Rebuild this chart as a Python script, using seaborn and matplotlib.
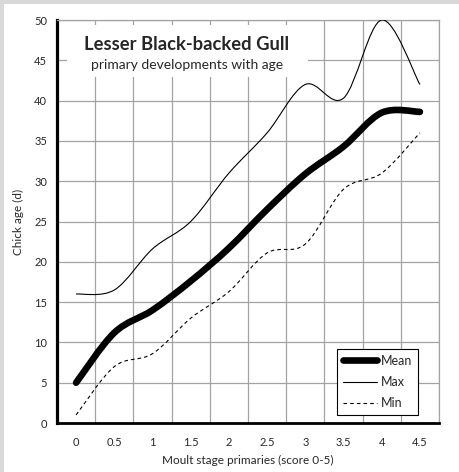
import matplotlib
matplotlib.use('Agg')
import matplotlib.pyplot as plt
from matplotlib.path import Path
from matplotlib.patches import PathPatch, Rectangle
from matplotlib.lines import Line2D
import numpy as np
import seaborn as sns

# moult score categories and chick age (days)
score = [0, 0.5, 1, 1.5, 2, 2.5, 3, 3.5, 4, 4.5]
age_mean = [5, 11.2, 14, 17.6, 21.7, 26.5, 30.9, 34.3, 38.5, 38.6]
age_max = [16, 16.5, 21.6, 25, 31, 36, 42, 40.3, 50, 42]
age_min = [1, 7, 8.6, 13, 16.3, 21.1, 22.2, 29, 31, 36]
tick_labels = ['0', '0.5', '1', '1.5', '2', '2.5', '3', '3.5', '4', '4.5']

sns.set_style('white')
plt.rcParams['font.family'] = ['Lato', 'DejaVu Sans']
plt.rcParams['lines.scale_dashes'] = False

GRID = '#a3a3a3'


def smooth_path(x, y):
    """Excel-like smoothed line: cubic bezier through every data point"""
    pts = np.column_stack([x, y]).astype(float)
    verts = [pts[0]]
    codes = [Path.MOVETO]
    n = len(pts)
    for i in range(n - 1):
        p0 = pts[i - 1] if i > 0 else pts[i]
        p1, p2 = pts[i], pts[i + 1]
        p3 = pts[i + 2] if i + 2 < n else pts[i + 1]
        verts += [p1 + (p2 - p0) / 6.0, p2 - (p3 - p1) / 6.0, p2]
        codes += [Path.CURVE4] * 3
    return Path(verts, codes)


fig = plt.figure(figsize=(4.6, 4.72), dpi=100)
fig.patch.set_facecolor('#d9d9d9')
fig.add_artist(Rectangle((4 / 460, 0), 1, 468 / 472, transform=fig.transFigure,
                         facecolor='white', edgecolor='none', zorder=-1))

ax = fig.add_axes([57 / 460, 49 / 472, 382 / 460, 403 / 472])

# category style axis: labels in the middle of each bin, grid on the bin edges
ax.set_xlim(-0.25, 4.75)
ax.set_ylim(0, 50)
ax.set_xticks(score)
ax.set_xticklabels(tick_labels)
ax.set_xticks(np.arange(-0.25, 4.8, 0.5), minor=True)
ax.set_yticks(range(0, 51, 5))

ax.grid(False)
ax.grid(True, which='minor', axis='x', color=GRID, lw=0.9)
ax.grid(True, which='major', axis='y', color=GRID, lw=0.9)
ax.set_axisbelow(True)

ax.tick_params(axis='x', which='major', length=0, pad=10, labelsize=8)
ax.tick_params(axis='x', which='minor', length=3, width=0.8, direction='out', color='black')
ax.tick_params(axis='y', length=3, width=0.8, direction='out', color='black', pad=4, labelsize=8)

for side in ['top', 'right']:
    ax.spines[side].set_color(GRID)
    ax.spines[side].set_linewidth(0.9)
ax.spines['left'].set_linewidth(2.3)
ax.spines['left'].set_color('black')
ax.spines['bottom'].set_linewidth(2.0)
ax.spines['bottom'].set_color('black')

# white box behind the title covers the grid
ax.add_patch(Rectangle((0.026, 0.859), 0.631, 0.129, transform=ax.transAxes,
                       facecolor='white', edgecolor='none', zorder=1.5))

# the three series
ax.add_patch(PathPatch(smooth_path(score, age_max), facecolor='none', edgecolor='black',
                       lw=0.8, zorder=3))
ax.add_patch(PathPatch(smooth_path(score, age_min), facecolor='none', edgecolor='black',
                       lw=0.8, linestyle=(0, (2.6, 2.2)), zorder=3))
ax.add_patch(PathPatch(smooth_path(score, age_mean), facecolor='none', edgecolor='black',
                       lw=4.8, capstyle='round', joinstyle='round', zorder=4))

ax.text(0.34, 0.9256, 'Lesser Black-backed Gull', transform=ax.transAxes,
        ha='center', va='baseline', fontsize=13.2, fontweight='bold', zorder=5)
ax.text(0.34, 0.878, 'primary developments with age', transform=ax.transAxes,
        ha='center', va='baseline', fontsize=10, zorder=5)

ax.set_xlabel('Moult stage primaries (score 0-5)', fontsize=8.5, va='center')
ax.set_ylabel('Chick age (d)', fontsize=8.5, va='center')
ax.xaxis.set_label_coords(0.499, -0.092)
ax.yaxis.set_label_coords(-0.1, 0.5)

handles = [Line2D([0], [0], color='black', lw=4.8, solid_capstyle='round', label='Mean'),
           Line2D([0], [0], color='black', lw=0.8, label='Max'),
           Line2D([0], [0], color='black', lw=0.8, linestyle=(0, (2.6, 2.2)), label='Min')]
lgd = ax.legend(handles=handles, loc='lower right', bbox_to_anchor=(0.945, 0.02),
                borderaxespad=0, fontsize=9, frameon=True, fancybox=False,
                handlelength=2.7, handletextpad=0.35, labelspacing=0.75,
                borderpad=0.45)
lgd.get_frame().set_edgecolor('black')
lgd.get_frame().set_linewidth(0.8)
lgd.get_frame().set_alpha(1)
lgd.set_zorder(6)

fig.savefig('out.png', dpi=100)
